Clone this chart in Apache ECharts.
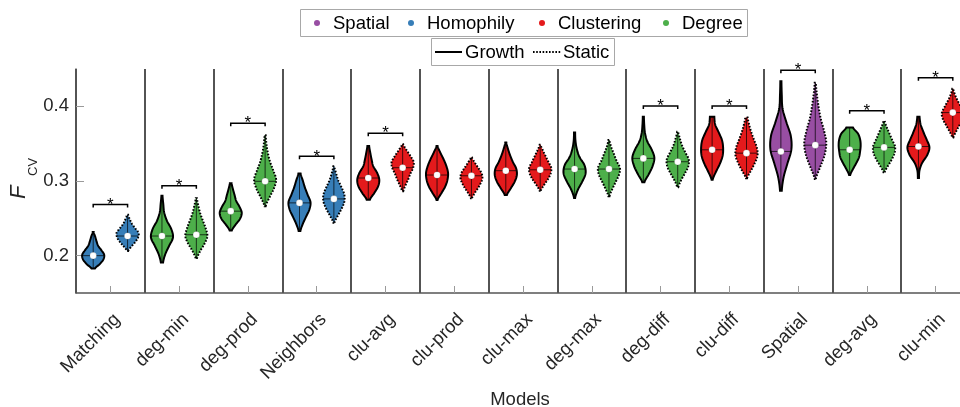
<!DOCTYPE html>
<html>
<head>
<meta charset="utf-8">
<script src="https://cdn.jsdelivr.net/npm/echarts@6/dist/echarts.min.js"></script>
<style>
  html, body { margin: 0; padding: 0; background: #fff; }
  #chart { width: 960px; height: 407px; }
</style>
</head>
<body>
<div id="chart"></div>
<script>
// Models along the x axis and the mechanism family each belongs to
const models = ['Matching', 'deg-min', 'deg-prod', 'Neighbors', 'clu-avg', 'clu-prod', 'clu-max',
  'deg-max', 'deg-diff', 'clu-diff', 'Spatial', 'deg-avg', 'clu-min'];
const modelFamily = ['Homophily', 'Degree', 'Degree', 'Homophily', 'Clustering', 'Clustering', 'Clustering',
  'Degree', 'Degree', 'Clustering', 'Spatial', 'Degree', 'Clustering'];
const familyNames = ['Spatial', 'Homophily', 'Clustering', 'Degree'];
const modeNames = ['Growth', 'Static'];

// F_CV distribution summaries: lower end, upper end and median of each violin
const growthMin    = [0.1827, 0.1907, 0.2338, 0.2329, 0.2750, 0.2747, 0.2813, 0.2773, 0.2983, 0.3018, 0.2870, 0.3080, 0.3040];
const growthMax    = [0.2316, 0.2804, 0.2969, 0.3102, 0.3470, 0.3470, 0.3516, 0.3649, 0.3862, 0.3862, 0.4337, 0.3716, 0.3862];
const growthMedian = [0.2000, 0.2263, 0.2596, 0.2707, 0.3040, 0.3080, 0.3138, 0.3160, 0.3303, 0.3418, 0.3396, 0.3418, 0.3462];
const staticMin    = [0.2063, 0.1960, 0.2662, 0.2440, 0.2862, 0.2770, 0.2870, 0.2796, 0.2916, 0.3036, 0.3027, 0.3116, 0.3582];
const staticMax    = [0.2547, 0.2770, 0.3613, 0.3196, 0.3493, 0.3316, 0.3484, 0.3550, 0.3658, 0.3850, 0.4316, 0.3804, 0.4236];
const staticMedian = [0.2263, 0.2280, 0.2996, 0.2760, 0.3178, 0.3070, 0.3150, 0.3160, 0.3258, 0.3373, 0.3480, 0.3450, 0.3916];

// Relative density (bottom -> top, 9 evenly spaced levels) that gives each violin its outline
const growthDensity = [
  [0.15, 0.60, 0.92, 1.00, 0.75, 0.45, 0.30, 0.18, 0.05],
  [0.10, 0.30, 0.65, 1.00, 0.85, 0.45, 0.20, 0.12, 0.05],
  [0.10, 0.45, 0.85, 1.00, 0.80, 0.50, 0.35, 0.20, 0.08],
  [0.08, 0.30, 0.60, 0.90, 1.00, 0.75, 0.50, 0.30, 0.10],
  [0.15, 0.55, 0.90, 1.00, 0.80, 0.45, 0.30, 0.18, 0.08],
  [0.05, 0.40, 0.75, 0.95, 1.00, 0.85, 0.60, 0.30, 0.05],
  [0.10, 0.45, 0.80, 1.00, 0.95, 0.65, 0.40, 0.20, 0.05],
  [0.05, 0.30, 0.70, 1.00, 0.90, 0.45, 0.20, 0.08, 0.05],
  [0.10, 0.50, 0.85, 1.00, 0.75, 0.35, 0.15, 0.08, 0.05],
  [0.05, 0.35, 0.70, 0.95, 1.00, 0.90, 0.60, 0.28, 0.20],
  [0.08, 0.25, 0.60, 0.95, 0.90, 0.50, 0.15, 0.08, 0.05],
  [0.05, 0.30, 0.60, 0.85, 0.95, 1.00, 0.95, 0.75, 0.30],
  [0.05, 0.10, 0.35, 0.80, 1.00, 0.75, 0.45, 0.20, 0.10]
];
const staticDensity = [
  [0.05, 0.35, 0.70, 0.95, 1.00, 0.70, 0.40, 0.20, 0.05],
  [0.05, 0.35, 0.75, 1.00, 0.85, 0.60, 0.35, 0.18, 0.05],
  [0.05, 0.40, 0.80, 1.00, 0.75, 0.45, 0.25, 0.12, 0.05],
  [0.05, 0.35, 0.70, 0.95, 0.95, 0.70, 0.40, 0.20, 0.05],
  [0.05, 0.25, 0.50, 0.70, 0.95, 1.00, 0.70, 0.35, 0.05],
  [0.05, 0.30, 0.60, 0.85, 1.00, 0.90, 0.60, 0.30, 0.05],
  [0.05, 0.35, 0.70, 0.95, 1.00, 0.75, 0.50, 0.25, 0.05],
  [0.05, 0.30, 0.60, 0.90, 1.00, 0.70, 0.45, 0.20, 0.05],
  [0.05, 0.30, 0.65, 0.95, 1.00, 0.70, 0.40, 0.20, 0.05],
  [0.05, 0.40, 0.75, 1.00, 0.95, 0.70, 0.45, 0.25, 0.10],
  [0.05, 0.45, 0.85, 1.00, 0.80, 0.50, 0.30, 0.15, 0.05],
  [0.05, 0.35, 0.70, 0.95, 1.00, 0.75, 0.50, 0.25, 0.05],
  [0.05, 0.30, 0.60, 0.90, 1.00, 0.75, 0.45, 0.20, 0.05]
];

// Height of the significance bracket (null: no significant difference)
const bracketLevel = [0.2684, 0.2937, 0.3773, 0.3330, 0.3640, null, null, null, 0.4004, 0.4004, 0.4484, 0.3940, 0.4383];

// Y axis range and labelled ticks
const yRange = [0.15, 0.45];
const yTicks = [0.2, 0.3, 0.4];

// ---- styling ----
const FONT = 'Liberation Sans, Arial, sans-serif';
const TEXT_SIZE = 18.5;
const familyColors = { Spatial: '#984EA3', Homophily: '#377EB8', Clustering: '#E41A1C', Degree: '#4DAF4A' };
const SIDE_OFFSET = 0.25;   // violin centre offset from category centre, in band widths
const HALF_WIDTH = 0.16;    // widest half-width of a violin, in band widths
const DOTTED = [1.6, 1.6];

// Catmull-Rom interpolation of a density profile at t in [0, 1]
function profileAt(p, t) {
  const n = p.length - 1;
  const s = Math.min(Math.max(t, 0), 1) * n;
  const j = Math.min(Math.floor(s), n - 1);
  const u = s - j;
  const p0 = p[Math.max(j - 1, 0)], p1 = p[j], p2 = p[j + 1], p3 = p[Math.min(j + 2, n)];
  const v = 0.5 * (2 * p1 + (-p0 + p2) * u + (2 * p0 - 5 * p1 + 4 * p2 - p3) * u * u +
    (-p0 + 3 * p1 - 3 * p2 + p3) * u * u * u);
  return Math.max(v, 0.03);
}

function violinRenderer(density, offset, dashed) {
  return function (params, api) {
    const i = api.value(0);
    const lo = api.value(1), hi = api.value(2), med = api.value(3);
    const band = api.size([1, 0])[0];
    const cx = api.coord([i, med])[0] + offset * band;
    const yLo = api.coord([i, lo])[1];
    const yHi = api.coord([i, hi])[1];
    const yMed = api.coord([i, med])[1];
    const hw = HALF_WIDTH * band;
    const prof = density[params.dataIndex];
    const steps = 80;
    const right = [], left = [];
    for (let k = 0; k <= steps; k++) {
      const t = k / steps;
      const w = profileAt(prof, t) * hw;
      const y = yLo + (yHi - yLo) * t;
      right.push([cx + w, y]);
      left.push([cx - w, y]);
    }
    const pts = right.concat(left.reverse());
    const wm = profileAt(prof, (med - lo) / (hi - lo)) * hw;
    const color = familyColors[modelFamily[i]];
    return {
      type: 'group',
      children: [
        { type: 'polygon', shape: { points: pts },
          style: { fill: color, stroke: '#000', lineWidth: 2, lineDash: dashed ? DOTTED : null } },
        { type: 'line', shape: { x1: cx, y1: yLo, x2: cx, y2: yHi },
          style: { stroke: 'rgba(0,0,0,0.7)', lineWidth: 1 } },
        { type: 'line', shape: { x1: cx - wm, y1: yMed, x2: cx + wm, y2: yMed },
          style: { stroke: 'rgba(0,0,0,0.7)', lineWidth: 1 } },
        { type: 'circle', shape: { cx: cx, cy: yMed, r: 3.3 },
          style: { fill: '#fff', stroke: 'rgba(0,0,0,0.25)', lineWidth: 0.5 } }
      ]
    };
  };
}

function bracketRenderer(params, api) {
  const i = api.value(0);
  const level = api.value(1);
  const band = api.size([1, 0])[0];
  const c = api.coord([i, level]);
  const x1 = c[0] - SIDE_OFFSET * band, x2 = c[0] + SIDE_OFFSET * band, y = c[1];
  return {
    type: 'group',
    children: [
      { type: 'polyline', shape: { points: [[x1, y + 3], [x1, y], [x2, y], [x2, y + 3]] },
        style: { stroke: '#000', lineWidth: 1.5, fill: null } },
      { type: 'text', style: { text: '*', x: c[0], y: y + 9, align: 'center', verticalAlign: 'bottom',
        fontSize: 17, fontFamily: FONT, fill: '#000' } }
    ]
  };
}

// Legend boxes (families by colour, mode by outline style)
function legendGraphics() {
  const els = [];
  const textStyle = (t, x, y) => ({ type: 'text', x: x, y: y, silent: true,
    style: { text: t, fontSize: TEXT_SIZE, fontFamily: FONT, fill: '#000', align: 'left', verticalAlign: 'middle' } });
  els.push({ type: 'rect', shape: { x: 300.5, y: 9.5, width: 447, height: 27 },
    style: { fill: '#fff', stroke: '#a8a8a8', lineWidth: 1 } });
  const dotX = [317, 411, 542, 666];
  familyNames.forEach((f, k) => {
    els.push({ type: 'circle', shape: { cx: dotX[k], cy: 23, r: 3 }, style: { fill: familyColors[f] } });
    els.push(textStyle(f, dotX[k] + 16, 23.5));
  });
  els.push({ type: 'rect', shape: { x: 431.5, y: 38.5, width: 183, height: 27 },
    style: { fill: '#fff', stroke: '#a8a8a8', lineWidth: 1 } });
  els.push({ type: 'line', shape: { x1: 435, y1: 52, x2: 462, y2: 52 }, style: { stroke: '#000', lineWidth: 2 } });
  els.push(textStyle(modeNames[0], 465, 52.5));
  els.push({ type: 'line', shape: { x1: 533, y1: 52, x2: 561, y2: 52 },
    style: { stroke: '#000', lineWidth: 2, lineDash: DOTTED } });
  els.push(textStyle(modeNames[1], 563, 52.5));
  return els;
}

const growthData = models.map((m, i) => [i, growthMin[i], growthMax[i], growthMedian[i]]);
const staticData = models.map((m, i) => [i, staticMin[i], staticMax[i], staticMedian[i]]);
const bracketData = [];
bracketLevel.forEach((b, i) => { if (b !== null) bracketData.push([i, b]); });

const chart = echarts.init(document.getElementById('chart'), null, { renderer: 'canvas' });

chart.setOption({
  animation: false,
  textStyle: { fontFamily: FONT },
  grid: { left: 76, top: 69, width: 894, height: 224, containLabel: false, outerBoundsMode: 'none' },
  xAxis: {
    type: 'category', data: models, boundaryGap: true,
    axisLine: { lineStyle: { color: '#555', width: 1.5 } },
    axisTick: { show: true, inside: true, alignWithLabel: true, length: 7, interval: 0, lineStyle: { color: '#9a9a9a' } },
    axisLabel: { interval: 0, rotate: 45, fontSize: TEXT_SIZE, color: '#262626', margin: 17, verticalAlign: 'top', fontFamily: FONT },
    splitLine: { show: true, interval: 0, lineStyle: { color: '#1a1a1a', width: 1.5 } },
    name: 'Models', nameLocation: 'middle', nameGap: 91,
    nameTextStyle: { fontSize: TEXT_SIZE, color: '#262626', fontFamily: FONT, padding: [0, 6, 0, 0] }
  },
  yAxis: {
    type: 'value', min: yRange[0], max: yRange[1],
    axisLine: { show: true, lineStyle: { color: '#555', width: 1.5 } },
    axisTick: { show: true, inside: true, length: 8, customValues: yTicks, lineStyle: { color: '#9a9a9a' } },
    axisLabel: { customValues: yTicks, formatter: v => v.toFixed(1), fontSize: TEXT_SIZE, color: '#262626', margin: 7, fontFamily: FONT },
    splitLine: { show: false }
  },
  graphic: [
    { type: 'group', x: 30, y: 199, rotation: Math.PI / 2, children: [
      { type: 'text', x: 0, y: 0, style: { text: 'F', fontSize: 22, fontStyle: 'italic', fontFamily: FONT,
        fill: '#262626', align: 'left', verticalAlign: 'bottom' } },
      { type: 'text', x: 23, y: 10, style: { text: 'CV', fontSize: 13, fontFamily: FONT,
        fill: '#262626', align: 'left', verticalAlign: 'bottom' } }
    ] },
    { type: 'group', children: legendGraphics() }
  ],
  series: [
    { type: 'custom', name: 'growth violins', data: growthData, encode: { x: 0, y: [1, 2, 3] },
      renderItem: violinRenderer(growthDensity, -SIDE_OFFSET, false), clip: false, z: 3 },
    { type: 'custom', name: 'static violins', data: staticData, encode: { x: 0, y: [1, 2, 3] },
      renderItem: violinRenderer(staticDensity, SIDE_OFFSET, true), clip: false, z: 3 },
    { type: 'custom', name: 'significance', data: bracketData, encode: { x: 0, y: 1 },
      renderItem: bracketRenderer, clip: false, z: 4 }
  ]
});
</script>
</body>
</html>
